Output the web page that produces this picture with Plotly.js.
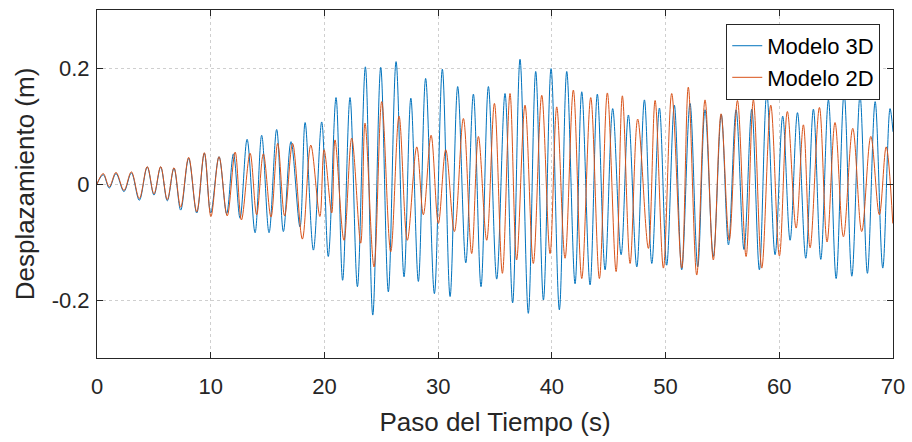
<!DOCTYPE html>
<html>
<head>
<meta charset="utf-8">
<script src="https://cdn.plot.ly/plotly-3.0.1.min.js"></script>
<style>html,body{margin:0;padding:0;background:#fff;}#chart{width:912px;height:442px;}</style>
</head>
<body>
<div id="chart"></div>
<script>
// Extrema (peaks / troughs)
const t3D = [0,0.55,1.08,1.67,2.37,3.02,3.72,4.42,5.01,5.6,6.18,6.77,7.36,8.06,8.77,9.44,10.0,10.73,11.4,12.0,12.58,13.2,13.9,14.48,15.13,15.8,16.39,17.06,17.85,18.3,19.03,19.76,20.34,21.02,21.6,22.25,22.9,23.6,24.25,24.95,25.62,26.3,27.0,27.6,28.26,28.9,29.67,30.37,31.05,31.72,32.43,33.1,33.77,34.42,35.15,35.88,36.55,37.2,37.93,38.58,39.26,39.93,40.66,41.31,42.04,42.63,43.36,44.0,44.68,45.35,46.09,46.73,47.47,48.14,48.79,49.46,50.1,50.77,51.42,52.15,52.83,53.47,54.2,54.9,55.53,56.2,56.9,57.58,58.25,58.9,59.63,60.3,60.95,61.6,62.33,63.0,63.65,64.32,65.0,65.7,66.38,67.1,67.75,68.43,69.1,69.74,70.0];
const d3D = [0,0.016,-0.007,0.018,-0.013,0.019,-0.028,0.029,-0.019,0.029,-0.029,0.027,-0.045,0.044,-0.05,0.053,-0.05,0.047,-0.051,0.052,-0.059,0.077,-0.084,0.084,-0.084,0.094,-0.082,0.073,-0.074,0.106,-0.114,0.107,-0.125,0.149,-0.166,0.149,-0.177,0.202,-0.226,0.201,-0.186,0.211,-0.16,0.148,-0.168,0.182,-0.189,0.198,-0.194,0.168,-0.136,0.155,-0.177,0.168,-0.164,0.156,-0.205,0.215,-0.223,0.194,-0.2,0.199,-0.217,0.194,-0.172,0.159,-0.174,0.155,-0.148,0.13,-0.122,0.119,-0.143,0.145,-0.137,0.131,-0.14,0.136,-0.148,0.139,-0.143,0.128,-0.125,0.12,-0.105,0.128,-0.113,0.129,-0.148,0.157,-0.122,0.117,-0.097,0.123,-0.128,0.129,-0.13,0.145,-0.163,0.157,-0.159,0.152,-0.154,0.142,-0.145,0.13,0.09];

const t2D = [0,0.55,1.08,1.67,2.37,3.02,3.72,4.42,5.01,5.6,6.18,6.77,7.36,8.06,8.77,9.44,10.02,10.73,11.45,12.15,12.7,13.46,14.04,14.63,15.3,15.89,16.5,17.2,18.06,18.8,19.6,19.97,20.64,20.93,21.72,22.4,23.19,23.57,24.36,25.04,25.83,26.56,27.29,28.12,28.7,29.38,30.02,30.67,31.43,32.22,32.95,33.54,34.27,34.95,35.65,36.32,36.9,37.64,38.37,39.11,39.84,40.43,41.16,41.89,42.63,43.42,44.18,44.88,45.65,46.2,46.88,47.55,48.49,49.08,49.81,50.54,51.42,52.0,52.74,53.47,54.2,54.88,55.6,56.32,57.08,57.72,58.46,59.25,60.01,60.71,61.48,62.12,62.71,63.53,64.2,64.9,65.64,66.46,67.25,68.05,68.8,69.4,69.98];
const d2D = [0,0.018,-0.005,0.02,-0.011,0.021,-0.025,0.03,-0.017,0.03,-0.027,0.028,-0.04,0.046,-0.048,0.054,-0.056,0.047,-0.055,0.055,-0.062,0.053,-0.053,0.052,-0.057,0.07,-0.055,0.07,-0.095,0.067,-0.056,0.059,-0.05,0.076,-0.097,0.079,-0.102,0.105,-0.143,0.142,-0.117,0.117,-0.097,0.064,-0.053,0.084,-0.068,0.059,-0.082,0.113,-0.12,0.082,-0.097,0.139,-0.154,0.156,-0.131,0.136,-0.137,0.153,-0.12,0.133,-0.128,0.162,-0.163,0.149,-0.163,0.157,-0.151,0.152,-0.137,0.112,-0.111,0.144,-0.145,0.156,-0.145,0.167,-0.157,0.145,-0.131,0.121,-0.097,0.144,-0.125,0.145,-0.145,0.136,-0.124,0.125,-0.076,0.102,-0.11,0.132,-0.1,0.106,-0.091,0.096,-0.082,0.082,-0.053,0.064,-0.068];

const seriesNames = ['Modelo 3D', 'Modelo 2D'];
const xTicks = [0,10,20,30,40,50,60,70];
const yTicks = [-0.2,0,0.2];
const yTickLabels = ['-0.2','0','0.2'];

const FONT = '"Liberation Sans", Arial, Helvetica, sans-serif';
const AX = '#262626';

const traces = [
  {x: t3D, y: d3D, name: seriesNames[0], type: 'scatter', mode: 'lines',
   line: {color: '#0072BD', width: 1, shape: 'spline', smoothing: 1}},
  {x: t2D, y: d2D, name: seriesNames[1], type: 'scatter', mode: 'lines',
   line: {color: '#D95319', width: 1, shape: 'spline', smoothing: 1}}
];

const axisCommon = {
  showline: true, linecolor: AX, linewidth: 1, mirror: 'ticks',
  ticks: 'inside', ticklen: 6, tickcolor: AX, tickwidth: 1,
  showgrid: true, gridcolor: '#cfcfcf', griddash: 'dot', gridwidth: 1,
  zeroline: false, tickfont: {family: FONT, size: 22, color: AX},
  automargin: false
};

const layout = {
  width: 912, height: 442,
  margin: {l: 97, r: 19, t: 10, b: 84},
  paper_bgcolor: '#fff', plot_bgcolor: '#fff',
  font: {family: FONT, color: AX},
  showlegend: true,
  legend: {x: 0.984, y: 0.96, xanchor: 'right', yanchor: 'top',
    bgcolor: '#fff', bordercolor: AX, borderwidth: 1,
    font: {family: FONT, size: 22, color: '#000'}, itemwidth: 30, tracegroupgap: 0},
  xaxis: Object.assign({}, axisCommon, {
    range: [0, 70], tickvals: xTicks, ticktext: xTicks.map(String),
    ticklabelstandoff: 9,
    title: {text: 'Paso del Tiempo (s)', font: {family: FONT, size: 26, color: AX}, standoff: 14}
  }),
  yaxis: Object.assign({}, axisCommon, {
    range: [-0.3, 0.3], tickvals: yTicks, ticktext: yTickLabels,
    ticklabelstandoff: 2,
    title: {text: 'Desplazamiento (m)', font: {family: FONT, size: 26, color: AX}, standoff: 9}
  })
};

Plotly.newPlot('chart', traces, layout, {displayModeBar: false, staticPlot: true});
</script>
</body>
</html>
